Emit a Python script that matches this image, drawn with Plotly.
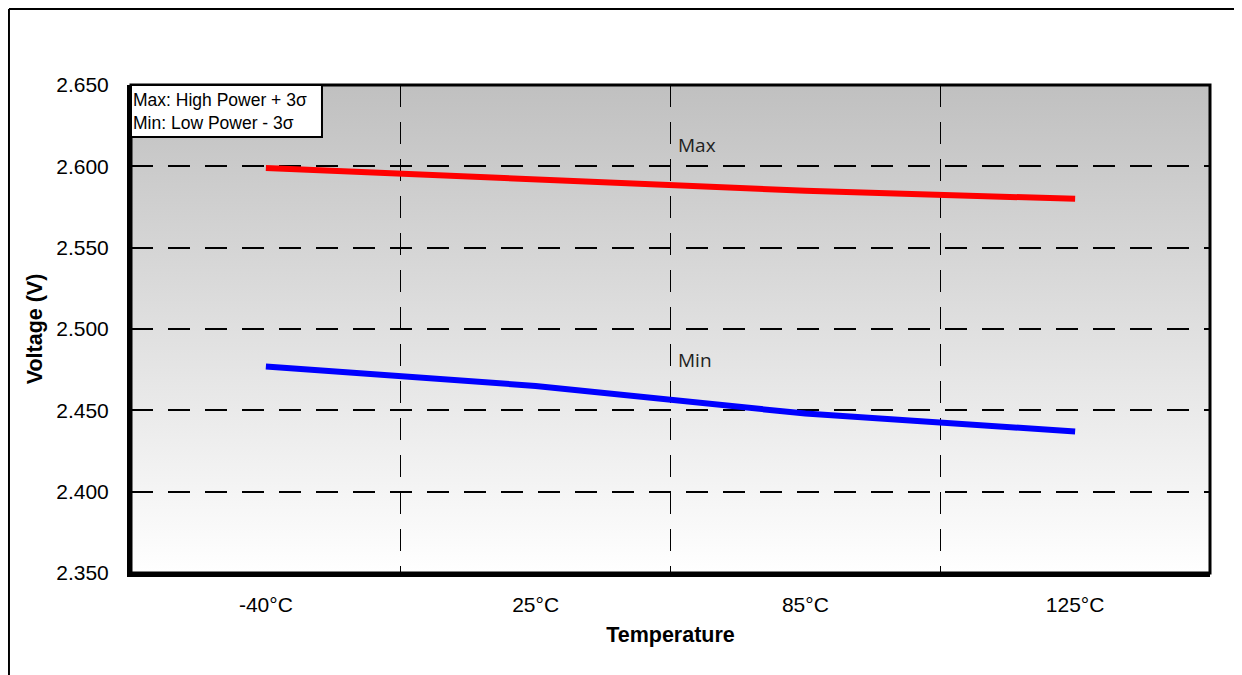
import base64
import plotly.graph_objects as go

temps = ["-40°C", "25°C", "85°C", "125°C"]
v_max = [2.599, 2.592, 2.585, 2.580]
v_min = [2.477, 2.465, 2.448, 2.437]
y_ticks = [2.35, 2.40, 2.45, 2.50, 2.55, 2.60, 2.65]

FONT = "Arial, Liberation Sans, sans-serif"

svg = ('<svg xmlns="http://www.w3.org/2000/svg" width="100" height="100" preserveAspectRatio="none">'
       '<defs><linearGradient id="g" x1="0" y1="0" x2="0" y2="1">'
       '<stop offset="0" stop-color="#c0c0c0"/><stop offset="1" stop-color="#ffffff"/>'
       '</linearGradient></defs><rect width="100" height="100" fill="url(#g)"/></svg>')
bg_uri = "data:image/svg+xml;base64," + base64.b64encode(svg.encode()).decode()

fig = go.Figure()
fig.add_trace(go.Scatter(x=temps, y=v_max, mode="lines", name="Max",
                         line=dict(color="#ff0000", width=6), showlegend=False))
fig.add_trace(go.Scatter(x=temps, y=v_min, mode="lines", name="Min",
                         line=dict(color="#0000ff", width=6), showlegend=False))

fig.update_layout(
    width=1242, height=675,
    margin=dict(l=123, r=40, t=77, b=110),
    paper_bgcolor="white",
    plot_bgcolor="rgba(0,0,0,0)",
    font=dict(family=FONT, size=21, color="black"),
    images=[dict(source=bg_uri, xref="paper", yref="paper", x=0, y=1,
                 sizex=1, sizey=1, sizing="stretch", xanchor="left",
                 yanchor="top", layer="below")],
    xaxis=dict(type="category", categoryorder="array", categoryarray=temps,
               range=[-0.5, 3.5], tickson="boundaries", ticks="inside",
               ticklen=7, tickwidth=1, tickcolor="black",
               showgrid=True, gridcolor="black", gridwidth=1,
               griddash="22px,15px", showline=True, linecolor="black",
               linewidth=4, ticklabelstandoff=10,
               title=dict(text="<b>Temperature</b>", font=dict(size=21.5), standoff=13),
               tickfont=dict(size=21)),
    yaxis=dict(range=[2.35, 2.65], tickvals=y_ticks, tickformat=".3f",
               showgrid=True, gridcolor="black", gridwidth=2,
               griddash="22px,15px", showline=True, linecolor="black",
               linewidth=4, ticks="", ticklabelstandoff=14,
               zeroline=False,
               title=dict(text="<b>Voltage (V)</b>", font=dict(size=21.5), standoff=9),
               tickfont=dict(size=21)),
    shapes=[
        dict(type="rect", xref="paper", yref="paper", x0=0, x1=1, y0=0, y1=1,
             line=dict(color="black", width=3), layer="above"),
        dict(type="line", xref="paper", yref="paper", x0=-0.1131, x1=1.3,
             y0=1.1557, y1=1.1557, line=dict(color="black", width=2), layer="above"),
        dict(type="line", xref="paper", yref="paper", x0=-0.1131, x1=-0.1131,
             y0=-0.3, y1=1.1557, line=dict(color="black", width=2), layer="above"),
        dict(type="rect", xref="paper", yref="paper", x0=0, x1=0.177,
             y0=0.8934, y1=1.0, fillcolor="white",
             line=dict(color="black", width=2), layer="above"),
    ],
    annotations=[
        dict(text="Max: High Power + 3σ<br>Min: Low Power - 3σ", xref="paper",
             yref="paper", x=0, y=0.9467, xanchor="left", yanchor="middle", align="left",
             xshift=1, showarrow=False, borderpad=0,
             font=dict(family=FONT, size=17.5, color="black")),
        dict(text="Max", x=1.52, y=2.613, xref="x", yref="y", xanchor="left",
             yanchor="middle", showarrow=False,
             font=dict(family="Open Sans, sans-serif", size=19, color="#222222")),
        dict(text="Min", x=1.52, y=2.481, xref="x", yref="y", xanchor="left",
             yanchor="middle", showarrow=False,
             font=dict(family="Open Sans, sans-serif", size=19, color="#222222")),
    ],
)

fig.write_html("out.html")
